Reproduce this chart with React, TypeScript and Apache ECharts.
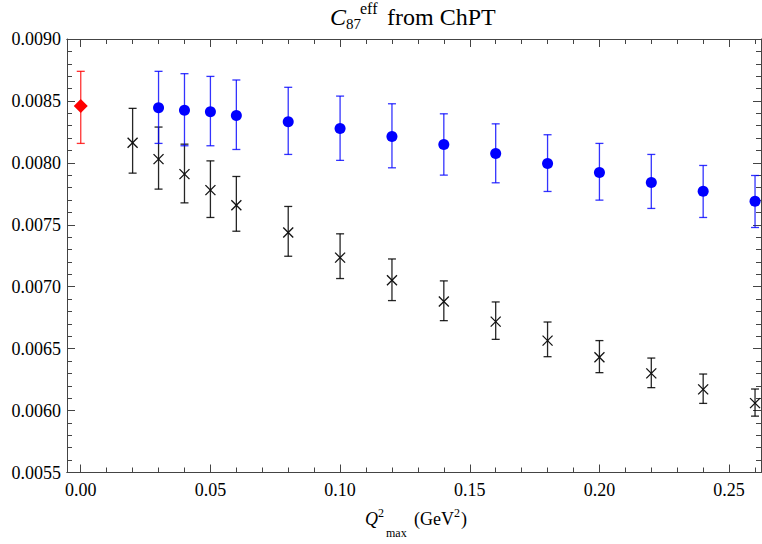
import React, { useEffect, useRef } from "react";
import * as echarts from "echarts";

// ---- axis ticks ----
const xMajorTicks = [0, 0.05, 0.1, 0.15, 0.2, 0.25];
const xMinorTicks = [0.01, 0.02, 0.03, 0.04, 0.06, 0.07, 0.08, 0.09, 0.11, 0.12, 0.13, 0.14, 0.16, 0.17, 0.18, 0.19, 0.21, 0.22, 0.23, 0.24, 0.26];
const Y_INTERVAL = 0.0005;
const X_MIN = -0.0053;
const X_MAX = 0.2623;
const Y_MIN = 0.0055;
const Y_MAX = 0.009;

// ---- red point (Q^2 = 0) ----
const redX = [0];
const redVal = [0.008459];
const redLo = [0.008157];
const redHi = [0.008739];

// ---- blue circles ----
const blueX = [0.03, 0.04, 0.05, 0.06, 0.08, 0.1, 0.12, 0.14, 0.16, 0.18, 0.2, 0.22, 0.24, 0.26];
const blueVal = [0.008445, 0.008424, 0.008412, 0.008383, 0.008332, 0.008278, 0.008213, 0.008149, 0.008076, 0.007995, 0.007923, 0.007842, 0.007771, 0.00769];
const blueHi = [0.008739, 0.00872, 0.008698, 0.008669, 0.00861, 0.008539, 0.008477, 0.008396, 0.008315, 0.008227, 0.008157, 0.008068, 0.007979, 0.007898];
const blueLo = [0.008157, 0.008138, 0.008138, 0.008108, 0.008068, 0.00802, 0.00796, 0.007901, 0.007839, 0.007769, 0.007699, 0.007632, 0.007559, 0.007478];

// ---- black crosses ----
const blackX = [0.02, 0.03, 0.04, 0.05, 0.06, 0.08, 0.1, 0.12, 0.14, 0.16, 0.18, 0.2, 0.22, 0.24, 0.26];
const blackVal = [0.008162, 0.00803, 0.007909, 0.00778, 0.007658, 0.007438, 0.007235, 0.007052, 0.00688, 0.006718, 0.006565, 0.00643, 0.0063, 0.006171, 0.00606];
const blackHi = [0.00844, 0.008289, 0.008151, 0.008016, 0.00789, 0.007648, 0.007427, 0.007224, 0.007047, 0.006877, 0.006715, 0.006565, 0.006424, 0.006295, 0.006174];
const blackLo = [0.007917, 0.007788, 0.007677, 0.007559, 0.007448, 0.007246, 0.007066, 0.006888, 0.006726, 0.006575, 0.006435, 0.006306, 0.006185, 0.006058, 0.005955];

const FONT = "Liberation Serif";
const AXIS_COLOR = "#444";

function xAxis(position: string, ticks: number[], len: number, label: boolean) {
  return {
    type: "value",
    position,
    min: X_MIN,
    max: X_MAX,
    axisLine: { show: true, onZero: false, lineStyle: { color: AXIS_COLOR, width: 1 } },
    axisTick: { show: true, inside: true, length: len, customValues: ticks, lineStyle: { color: AXIS_COLOR, width: 1 } },
    axisLabel: label
      ? { show: true, customValues: ticks, formatter: (v: number) => v.toFixed(2), color: "#000", fontFamily: FONT, fontSize: 18, margin: 8 }
      : { show: false },
    splitLine: { show: false },
  };
}
function yAxis(position: string, label: boolean) {
  return {
    type: "value",
    position,
    min: Y_MIN,
    max: Y_MAX,
    interval: Y_INTERVAL,
    axisLine: { show: true, onZero: false, lineStyle: { color: AXIS_COLOR, width: 1 } },
    axisTick: { show: true, inside: true, length: 8, lineStyle: { color: AXIS_COLOR, width: 1 } },
    minorTick: { show: true, splitNumber: 5, length: 5, lineStyle: { color: AXIS_COLOR, width: 1 } },
    axisLabel: label
      ? { show: true, formatter: (v: number) => v.toFixed(4), color: "#000", fontFamily: FONT, fontSize: 18, margin: 6 }
      : { show: false },
    splitLine: { show: false },
  };
}

function errRender(color: string, lw: number, cap: number) {
  return (params: any, api: any) => {
    const x = api.value(0);
    const lo = api.coord([x, api.value(1)]);
    const hi = api.coord([x, api.value(2)]);
    return {
      type: "group",
      children: [
        { type: "line", shape: { x1: lo[0], y1: lo[1], x2: hi[0], y2: hi[1] }, style: { stroke: color, lineWidth: lw } },
        { type: "line", shape: { x1: lo[0] - cap, y1: lo[1], x2: lo[0] + cap, y2: lo[1] }, style: { stroke: color, lineWidth: lw } },
        { type: "line", shape: { x1: hi[0] - cap, y1: hi[1], x2: hi[0] + cap, y2: hi[1] }, style: { stroke: color, lineWidth: lw } },
      ],
    };
  };
}

function crossRender(color: string, lw: number, h: number) {
  return (params: any, api: any) => {
    const p = api.coord([api.value(0), api.value(1)]);
    return {
      type: "group",
      children: [
        { type: "line", shape: { x1: p[0] - h, y1: p[1] - h, x2: p[0] + h, y2: p[1] + h }, style: { stroke: color, lineWidth: lw } },
        { type: "line", shape: { x1: p[0] - h, y1: p[1] + h, x2: p[0] + h, y2: p[1] - h }, style: { stroke: color, lineWidth: lw } },
      ],
    };
  };
}

export default function App() {
  const ref = useRef<HTMLDivElement>(null);
  useEffect(() => {
    if (!ref.current) return;
    const chart = echarts.init(ref.current, undefined, { renderer: "svg" });
    const errData = (xs: number[], lo: number[], hi: number[]) => xs.map((x, i) => [x, lo[i], hi[i]]);
    const ptData = (xs: number[], v: number[]) => xs.map((x, i) => [x, v[i]]);
    const txt = (text: string, left: number, top: number, size: number, italic = false) => ({
      type: "text",
      left,
      top,
      style: { text, fill: "#000", fontFamily: FONT, fontSize: size, fontStyle: italic ? "italic" : "normal" },
    });

    chart.setOption({
      animation: false,
      backgroundColor: "#fff",
      textStyle: { fontFamily: FONT },
      grid: { left: 67, top: 39, right: 1, bottom: 71.5, containLabel: false },
      xAxis: [
        xAxis("bottom", xMajorTicks, 8, true),
        xAxis("bottom", xMinorTicks, 5, false),
        xAxis("top", xMajorTicks, 8, false),
        xAxis("top", xMinorTicks, 5, false),
      ],
      yAxis: [yAxis("left", true), yAxis("right", false)],
      graphic: [
        txt("C", 330, 4.5, 24, true),
        txt("87", 346, 16, 15),
        txt("eff", 360, 0, 16),
        txt("from ChPT", 387, 4.5, 24),
        txt("Q", 365, 510, 18, true),
        txt("2", 378, 507, 12),
        txt("max", 386, 527, 12),
        txt("(GeV", 414, 510, 18),
        txt("2", 454, 507, 12),
        txt(")", 461, 510, 18),
      ],
      series: [
        { type: "custom", name: "blackErr", renderItem: errRender("rgba(0,0,0,0.85)", 1.3, 4), data: errData(blackX, blackLo, blackHi), encode: { x: 0, y: [1, 2] }, z: 2 },
        { type: "custom", name: "blackPts", renderItem: crossRender("#111", 1.3, 5), data: ptData(blackX, blackVal), encode: { x: 0, y: 1 }, z: 3 },
        { type: "custom", name: "blueErr", renderItem: errRender("rgba(0,0,255,0.8)", 1.3, 4), data: errData(blueX, blueLo, blueHi), encode: { x: 0, y: [1, 2] }, z: 4 },
        { type: "scatter", name: "bluePts", symbol: "circle", symbolSize: 11, itemStyle: { color: "#0000ff", opacity: 1 }, data: ptData(blueX, blueVal), z: 5 },
        { type: "custom", name: "redErr", renderItem: errRender("rgba(255,0,0,0.8)", 1.3, 4), data: errData(redX, redLo, redHi), encode: { x: 0, y: [1, 2] }, z: 6 },
        { type: "scatter", name: "redPts", symbol: "diamond", symbolSize: 14, itemStyle: { color: "#ff0000", opacity: 1 }, data: ptData(redX, redVal), z: 7 },
      ],
    });
    return () => chart.dispose();
  }, []);
  return <div ref={ref} style={{ position: "absolute", left: 0, top: 0, width: 762, height: 544 }} />;
}
